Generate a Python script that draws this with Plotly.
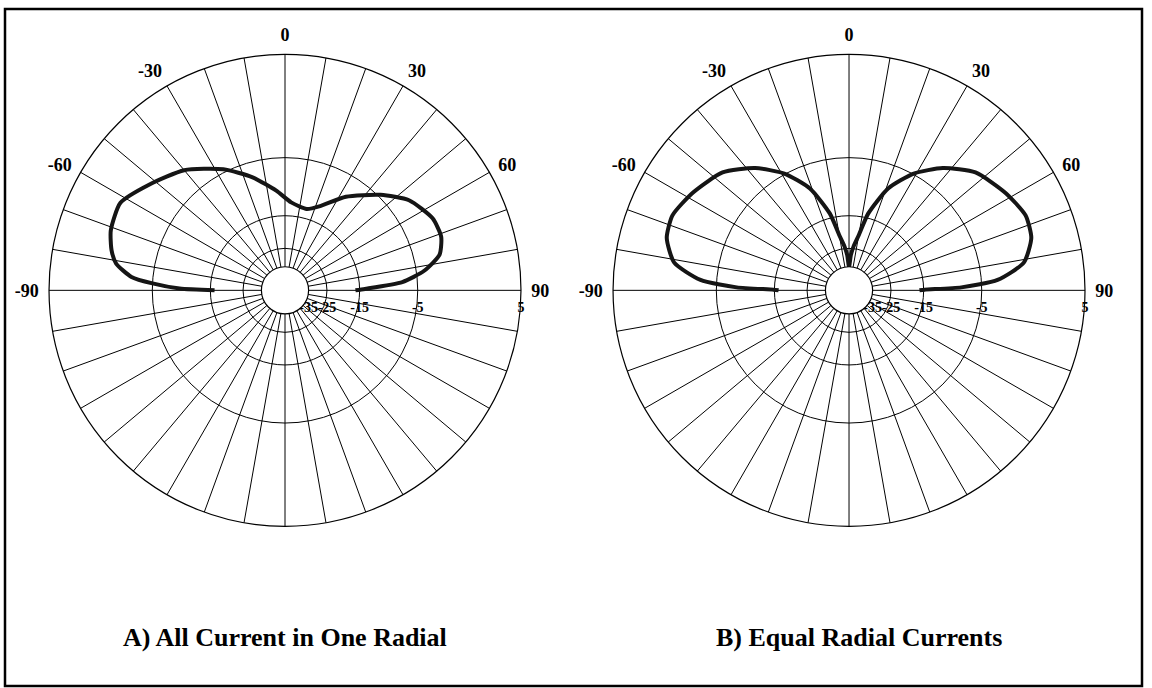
import plotly.graph_objs as go

# elevation / azimuth angle (deg) and relative level (dB)
angle_a = [-90, -89, -87, -85, -81, -77, -71, -62, -52, -40, -27, -16, -5, 4, 15, 23, 33, 45, 54, 64, 71, 77, 82, 86, 89, 90]
db_a    = [-16, -9, -5, -2.4, -0.6, 0.1, 0.7, 0.9, -0.5, -2.1, -4.6, -7.1, -9.9, -12.1, -12.9, -11.4, -8.0, -4.7, -2.5, -1.3, -1.2, -1.9, -4.0, -7.1, -13.8, -16]

angle_b = [-90, -89.5, -88.5, -86, -81, -74, -67, -58, -47, -37.5, -29, -21, -14, -10, -6, -3, 0,
           3, 6, 10, 14, 21, 29, 37.5, 47, 58, 67, 74, 81, 86, 88.5, 89.5, 90]
db_b    = [-16, -14.8, -7.9, -3, 0, 1.2, 1.4, 0.7, -0.4, -2.4, -4.9, -8.4, -14, -20, -24, -28, -35,
           -28, -24, -20, -14, -8.4, -4.9, -2.4, -0.4, 0.7, 1.4, 1.2, 0, -3, -7.9, -14.8, -16]

db_ticks   = [-35, -25, -15, -5, 5]
db_labels  = ['-35', '-25', '-15', '-5', '5']
ang_labels = {0: '0', 30: '30', 60: '60', 90: '90', 270: '-90', 300: '-60', 330: '-30'}

titles = ['A) All Current in One Radial', 'B) Equal Radial Currents']


def to_r(db):
    # log-style radial scale: radius grows by 10^(dB/40)
    return 10 ** (db / 40.0)


font = 'Liberation Serif'
ang_vals = list(range(0, 360, 10))

fig = go.Figure()
for i, (ang, db) in enumerate([(angle_a, db_a), (angle_b, db_b)]):
    fig.add_trace(go.Scatterpolar(r=[to_r(v) for v in db], theta=ang, mode='lines',
                                  line=dict(color='#151515', width=4, shape='spline', smoothing=0.6),
                                  subplot='polar' if i == 0 else 'polar2', showlegend=False,
                                  hoverinfo='skip'))

polar_style = dict(
    bgcolor='white',
    hole=0.1,
    angularaxis=dict(rotation=90, direction='clockwise', tickmode='array', tickvals=ang_vals,
                     ticktext=[ang_labels.get(a, '') for a in ang_vals],
                     ticks='outside', ticklen=6, tickcolor='rgba(0,0,0,0)',
                     showline=True, linecolor='black', linewidth=1.2,
                     gridcolor='black', gridwidth=1,
                     tickfont=dict(family=font, size=18, color='black', weight='bold')),
    radialaxis=dict(range=[to_r(-35), to_r(5)], tickmode='array', tickvals=[to_r(v) for v in db_ticks],
                    ticktext=db_labels, angle=0, side='clockwise', tickangle=0, showline=False,
                    ticks='outside', ticklen=4, tickcolor='rgba(0,0,0,0)',
                    gridcolor='black', gridwidth=1,
                    tickfont=dict(family=font, size=14, color='black', weight='bold')),
)

fig.update_layout(
    width=1152, height=688,
    margin=dict(l=0, r=0, t=0, b=0),
    paper_bgcolor='white', plot_bgcolor='white',
    polar=dict(domain=dict(x=[0.0425, 0.4523], y=[0.235, 0.921]), **polar_style),
    polar2=dict(domain=dict(x=[0.532, 0.942], y=[0.235, 0.921]), **polar_style),
)

fig.add_shape(type='rect', xref='paper', yref='paper', x0=5 / 1152, x1=1142 / 1152,
              y0=1 - 686 / 688, y1=1 - 9 / 688, line=dict(color='black', width=2.5))

for x, t in zip([0.247, 0.746], titles):
    fig.add_annotation(text='<b>' + t + '</b>', x=x, y=0.074, xref='paper', yref='paper',
                       xanchor='center', yanchor='middle', showarrow=False,
                       font=dict(family=font, size=26, color='black'))

fig.write_html("out.html", config={'displayModeBar': False},
               post_script="document.body.style.margin='0';document.body.style.overflow='hidden';")
